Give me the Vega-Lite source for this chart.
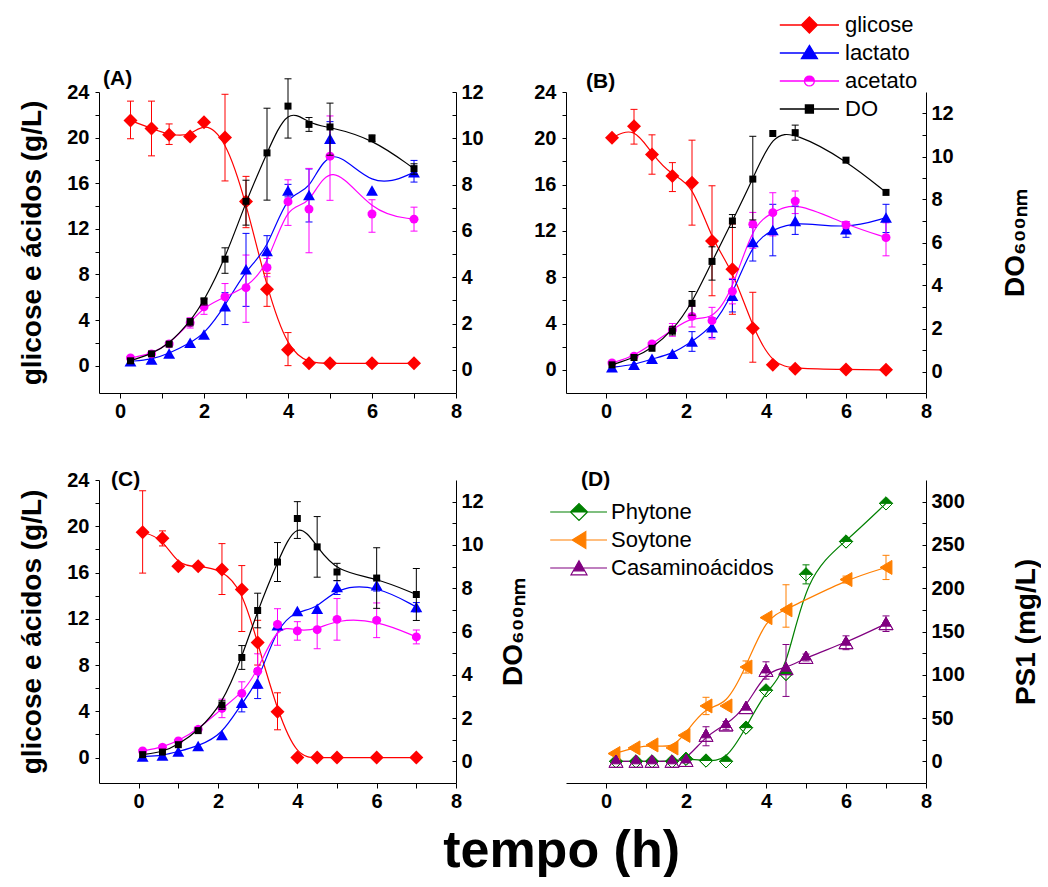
{
  "$schema": "https://vega.github.io/schema/vega-lite/v6.json",
  "background": "white",
  "autosize": {"type": "pad"},
  "padding": {"left": 18, "top": 14, "right": 0, "bottom": 0},
  "title": {"text": "tempo (h)", "orient": "bottom", "anchor": "middle", "fontSize": 52, "fontWeight": "bold", "color": "black", "offset": 15, "dx": 32},
  "datasets": {
    "A": [
      {"t": 0.25, "s": "glicose", "v": 21.5, "lo": 19.9, "hi": 23.2},
      {"t": 0.75, "s": "glicose", "v": 20.8, "lo": 18.4, "hi": 23.2},
      {"t": 1.17, "s": "glicose", "v": 20.25, "lo": 19.4, "hi": 21.2},
      {"t": 1.67, "s": "glicose", "v": 20.1},
      {"t": 2.0, "s": "glicose", "v": 21.35},
      {"t": 2.5, "s": "glicose", "v": 20.0, "lo": 16.2, "hi": 23.8},
      {"t": 3.0, "s": "glicose", "v": 14.4, "lo": 12.1, "hi": 16.6},
      {"t": 3.5, "s": "glicose", "v": 6.7, "lo": 5.2, "hi": 8.1},
      {"t": 4.0, "s": "glicose", "v": 1.4, "lo": 0.0, "hi": 2.9},
      {"t": 4.5, "s": "glicose", "v": 0.2},
      {"t": 5.0, "s": "glicose", "v": 0.2},
      {"t": 6.0, "s": "glicose", "v": 0.2},
      {"t": 7.0, "s": "glicose", "v": 0.2},
      {"t": 0.25, "s": "lactato", "v": 0.38},
      {"t": 0.75, "s": "lactato", "v": 0.53},
      {"t": 1.17, "s": "lactato", "v": 1.06},
      {"t": 1.67, "s": "lactato", "v": 2.0},
      {"t": 2.0, "s": "lactato", "v": 2.73},
      {"t": 2.5, "s": "lactato", "v": 5.2, "lo": 3.6, "hi": 6.4},
      {"t": 3.0, "s": "lactato", "v": 8.45, "lo": 5.2, "hi": 11.6},
      {"t": 3.5, "s": "lactato", "v": 10.06, "lo": 8.8, "hi": 11.4},
      {"t": 4.0, "s": "lactato", "v": 15.35, "lo": 14.8, "hi": 15.9},
      {"t": 4.5, "s": "lactato", "v": 14.96, "lo": 12.6, "hi": 17.25},
      {"t": 5.0, "s": "lactato", "v": 19.9, "lo": 18.2, "hi": 21.4},
      {"t": 6.0, "s": "lactato", "v": 15.35},
      {"t": 7.0, "s": "lactato", "v": 16.96, "lo": 16.1, "hi": 18.0},
      {"t": 0.25, "s": "acetato", "v": 0.67},
      {"t": 0.75, "s": "acetato", "v": 1.03},
      {"t": 1.17, "s": "acetato", "v": 1.9},
      {"t": 1.67, "s": "acetato", "v": 3.76, "lo": 3.3, "hi": 4.2},
      {"t": 2.0, "s": "acetato", "v": 5.16, "lo": 4.5, "hi": 5.8},
      {"t": 2.5, "s": "acetato", "v": 6.04, "lo": 4.9, "hi": 7.2},
      {"t": 3.0, "s": "acetato", "v": 6.84, "lo": 3.8, "hi": 9.7},
      {"t": 3.5, "s": "acetato", "v": 8.6, "lo": 7.8, "hi": 9.4},
      {"t": 4.0, "s": "acetato", "v": 14.38, "lo": 12.3, "hi": 16.3},
      {"t": 4.5, "s": "acetato", "v": 13.73, "lo": 9.9, "hi": 17.3},
      {"t": 5.0, "s": "acetato", "v": 18.37, "lo": 14.5, "hi": 21.9},
      {"t": 6.0, "s": "acetato", "v": 13.3, "lo": 11.7, "hi": 14.55},
      {"t": 7.0, "s": "acetato", "v": 12.85, "lo": 11.8, "hi": 13.9},
      {"t": 0.25, "s": "DO", "v": 0.39},
      {"t": 0.75, "s": "DO", "v": 0.69},
      {"t": 1.17, "s": "DO", "v": 1.11},
      {"t": 1.67, "s": "DO", "v": 2.08, "lo": 1.9, "hi": 2.2},
      {"t": 2.0, "s": "DO", "v": 2.97, "lo": 2.8, "hi": 3.1},
      {"t": 2.5, "s": "DO", "v": 4.78, "lo": 4.17, "hi": 5.27},
      {"t": 3.0, "s": "DO", "v": 7.28, "lo": 6.25, "hi": 8.19},
      {"t": 3.5, "s": "DO", "v": 9.37, "lo": 7.33, "hi": 11.3},
      {"t": 4.0, "s": "DO", "v": 11.39, "lo": 10.01, "hi": 12.57},
      {"t": 4.5, "s": "DO", "v": 10.6, "lo": 10.3, "hi": 10.9},
      {"t": 5.0, "s": "DO", "v": 10.49, "lo": 9.27, "hi": 11.52},
      {"t": 6.0, "s": "DO", "v": 9.99, "lo": 9.85, "hi": 10.15},
      {"t": 7.0, "s": "DO", "v": 8.69, "lo": 8.45, "hi": 8.9}
    ],
    "B": [
      {"t": 0.15, "s": "glicose", "v": 20.04},
      {"t": 0.7, "s": "glicose", "v": 21.04, "lo": 19.5, "hi": 22.5},
      {"t": 1.15, "s": "glicose", "v": 18.6, "lo": 16.9, "hi": 20.3},
      {"t": 1.66, "s": "glicose", "v": 16.74, "lo": 15.4, "hi": 17.9},
      {"t": 2.15, "s": "glicose", "v": 16.16, "lo": 12.5, "hi": 19.84},
      {"t": 2.65, "s": "glicose", "v": 11.14, "lo": 6.4, "hi": 15.9},
      {"t": 3.16, "s": "glicose", "v": 8.7, "lo": 4.8, "hi": 12.6},
      {"t": 3.67, "s": "glicose", "v": 3.59, "lo": 0.66, "hi": 6.7},
      {"t": 4.17, "s": "glicose", "v": 0.43},
      {"t": 4.73, "s": "glicose", "v": 0.1},
      {"t": 6.0, "s": "glicose", "v": 0.03},
      {"t": 7.0, "s": "glicose", "v": 0.0},
      {"t": 0.15, "s": "lactato", "v": 0.23},
      {"t": 0.7, "s": "lactato", "v": 0.43},
      {"t": 1.15, "s": "lactato", "v": 0.95},
      {"t": 1.66, "s": "lactato", "v": 1.38},
      {"t": 2.15, "s": "lactato", "v": 2.44, "lo": 1.6, "hi": 3.3},
      {"t": 2.65, "s": "lactato", "v": 3.67, "lo": 2.8, "hi": 4.5},
      {"t": 3.16, "s": "lactato", "v": 6.4, "lo": 5.0, "hi": 7.8},
      {"t": 3.67, "s": "lactato", "v": 11.05, "lo": 9.4, "hi": 12.3},
      {"t": 4.17, "s": "lactato", "v": 12.09, "lo": 9.85, "hi": 14.3},
      {"t": 4.73, "s": "lactato", "v": 12.86, "lo": 11.7, "hi": 14.15},
      {"t": 6.0, "s": "lactato", "v": 12.14, "lo": 11.45, "hi": 12.8},
      {"t": 7.0, "s": "lactato", "v": 13.15, "lo": 11.86, "hi": 14.3},
      {"t": 0.15, "s": "acetato", "v": 0.6},
      {"t": 0.7, "s": "acetato", "v": 1.18},
      {"t": 1.15, "s": "acetato", "v": 2.24},
      {"t": 1.66, "s": "acetato", "v": 3.47, "lo": 2.9, "hi": 4.0},
      {"t": 2.15, "s": "acetato", "v": 4.62, "lo": 3.7, "hi": 5.5},
      {"t": 2.65, "s": "acetato", "v": 4.25, "lo": 2.67, "hi": 5.4},
      {"t": 3.16, "s": "acetato", "v": 6.78, "lo": 5.7, "hi": 7.9},
      {"t": 3.67, "s": "acetato", "v": 12.58, "lo": 10.5, "hi": 13.6},
      {"t": 4.17, "s": "acetato", "v": 13.58, "lo": 11.57, "hi": 15.3},
      {"t": 4.73, "s": "acetato", "v": 14.58, "lo": 13.5, "hi": 15.45},
      {"t": 6.0, "s": "acetato", "v": 12.52, "lo": 12.2, "hi": 12.8},
      {"t": 7.0, "s": "acetato", "v": 11.43, "lo": 9.85, "hi": 12.7},
      {"t": 0.15, "s": "DO", "v": 0.31},
      {"t": 0.7, "s": "DO", "v": 0.65},
      {"t": 1.15, "s": "DO", "v": 1.08},
      {"t": 1.66, "s": "DO", "v": 1.89, "lo": 1.7, "hi": 2.1},
      {"t": 2.15, "s": "DO", "v": 3.17, "lo": 2.62, "hi": 3.72},
      {"t": 2.65, "s": "DO", "v": 5.12, "lo": 4.25, "hi": 5.8},
      {"t": 3.16, "s": "DO", "v": 7.0, "lo": 6.7, "hi": 7.3},
      {"t": 3.67, "s": "DO", "v": 8.95, "lo": 7.05, "hi": 10.94},
      {"t": 4.17, "s": "DO", "v": 11.07},
      {"t": 4.73, "s": "DO", "v": 11.11, "lo": 10.76, "hi": 11.46},
      {"t": 6.0, "s": "DO", "v": 9.83},
      {"t": 7.0, "s": "DO", "v": 8.33}
    ],
    "C": [
      {"t": 0.1, "s": "glicose", "v": 19.48, "lo": 15.95, "hi": 23.07},
      {"t": 0.6, "s": "glicose", "v": 18.97, "lo": 18.3, "hi": 19.6},
      {"t": 1.0, "s": "glicose", "v": 16.55},
      {"t": 1.5, "s": "glicose", "v": 16.55},
      {"t": 2.1, "s": "glicose", "v": 16.26, "lo": 14.1, "hi": 18.5},
      {"t": 2.6, "s": "glicose", "v": 14.54, "lo": 10.9, "hi": 16.6},
      {"t": 3.0, "s": "glicose", "v": 9.94, "lo": 8.0, "hi": 11.87},
      {"t": 3.5, "s": "glicose", "v": 3.97, "lo": 2.4, "hi": 5.6},
      {"t": 4.0, "s": "glicose", "v": 0.0},
      {"t": 4.5, "s": "glicose", "v": 0.0},
      {"t": 5.0, "s": "glicose", "v": 0.0},
      {"t": 6.0, "s": "glicose", "v": 0.0},
      {"t": 7.0, "s": "glicose", "v": 0.0},
      {"t": 0.1, "s": "lactato", "v": 0.09},
      {"t": 0.6, "s": "lactato", "v": 0.17},
      {"t": 1.0, "s": "lactato", "v": 0.52},
      {"t": 1.5, "s": "lactato", "v": 1.0},
      {"t": 2.1, "s": "lactato", "v": 1.95},
      {"t": 2.6, "s": "lactato", "v": 4.74, "lo": 3.95, "hi": 5.55},
      {"t": 3.0, "s": "lactato", "v": 6.41, "lo": 5.1, "hi": 7.7},
      {"t": 3.5, "s": "lactato", "v": 11.44},
      {"t": 4.0, "s": "lactato", "v": 12.67},
      {"t": 4.5, "s": "lactato", "v": 12.87},
      {"t": 5.0, "s": "lactato", "v": 14.74, "lo": 14.1, "hi": 15.3},
      {"t": 6.0, "s": "lactato", "v": 14.89, "lo": 14.4, "hi": 15.4},
      {"t": 7.0, "s": "lactato", "v": 13.02, "lo": 12.6, "hi": 13.4},
      {"t": 0.1, "s": "acetato", "v": 0.57},
      {"t": 0.6, "s": "acetato", "v": 0.89},
      {"t": 1.0, "s": "acetato", "v": 1.44},
      {"t": 1.5, "s": "acetato", "v": 2.44},
      {"t": 2.1, "s": "acetato", "v": 4.25, "lo": 3.45, "hi": 5.05},
      {"t": 2.6, "s": "acetato", "v": 5.55, "lo": 4.55, "hi": 6.55},
      {"t": 3.0, "s": "acetato", "v": 7.47, "lo": 5.97, "hi": 8.97},
      {"t": 3.5, "s": "acetato", "v": 11.52, "lo": 9.71, "hi": 12.87},
      {"t": 4.0, "s": "acetato", "v": 10.95, "lo": 10.15, "hi": 11.75},
      {"t": 4.5, "s": "acetato", "v": 11.06, "lo": 9.41, "hi": 12.71},
      {"t": 5.0, "s": "acetato", "v": 11.95, "lo": 10.15, "hi": 13.75},
      {"t": 6.0, "s": "acetato", "v": 11.87, "lo": 10.37, "hi": 13.37},
      {"t": 7.0, "s": "acetato", "v": 10.43, "lo": 9.83, "hi": 11.03},
      {"t": 0.1, "s": "DO", "v": 0.31},
      {"t": 0.6, "s": "DO", "v": 0.43},
      {"t": 1.0, "s": "DO", "v": 0.77},
      {"t": 1.5, "s": "DO", "v": 1.42},
      {"t": 2.1, "s": "DO", "v": 2.6, "lo": 2.4, "hi": 2.8},
      {"t": 2.6, "s": "DO", "v": 4.8, "lo": 4.25, "hi": 5.35},
      {"t": 3.0, "s": "DO", "v": 6.97, "lo": 6.17, "hi": 7.77},
      {"t": 3.5, "s": "DO", "v": 9.21, "lo": 8.31, "hi": 10.11},
      {"t": 4.0, "s": "DO", "v": 11.22, "lo": 10.3, "hi": 12.0},
      {"t": 4.5, "s": "DO", "v": 9.91, "lo": 8.51, "hi": 11.31},
      {"t": 5.0, "s": "DO", "v": 8.75, "lo": 8.35, "hi": 9.15},
      {"t": 6.0, "s": "DO", "v": 8.47, "lo": 7.07, "hi": 9.87},
      {"t": 7.0, "s": "DO", "v": 7.71, "lo": 6.51, "hi": 8.91}
    ],
    "D": [
      {"t": 0.25, "s": "Phytone", "v": 0},
      {"t": 0.75, "s": "Phytone", "v": 0},
      {"t": 1.15, "s": "Phytone", "v": 0},
      {"t": 1.65, "s": "Phytone", "v": 0},
      {"t": 2.0, "s": "Phytone", "v": 3},
      {"t": 2.5, "s": "Phytone", "v": 1},
      {"t": 3.0, "s": "Phytone", "v": 0},
      {"t": 3.5, "s": "Phytone", "v": 39},
      {"t": 4.0, "s": "Phytone", "v": 82},
      {"t": 4.5, "s": "Phytone", "v": 101},
      {"t": 5.0, "s": "Phytone", "v": 216, "lo": 205, "hi": 227},
      {"t": 6.0, "s": "Phytone", "v": 254},
      {"t": 7.0, "s": "Phytone", "v": 298},
      {"t": 0.2, "s": "Soytone", "v": 9},
      {"t": 0.7, "s": "Soytone", "v": 15.5},
      {"t": 1.15, "s": "Soytone", "v": 19},
      {"t": 1.65, "s": "Soytone", "v": 15.5},
      {"t": 1.95, "s": "Soytone", "v": 30},
      {"t": 2.5, "s": "Soytone", "v": 64, "lo": 54, "hi": 74},
      {"t": 3.0, "s": "Soytone", "v": 64},
      {"t": 3.5, "s": "Soytone", "v": 109, "lo": 102, "hi": 116},
      {"t": 4.0, "s": "Soytone", "v": 166},
      {"t": 4.5, "s": "Soytone", "v": 175, "lo": 155, "hi": 204},
      {"t": 6.0, "s": "Soytone", "v": 210, "lo": 206, "hi": 214},
      {"t": 7.0, "s": "Soytone", "v": 224, "lo": 210, "hi": 238},
      {"t": 0.25, "s": "Casaminoácidos", "v": 0},
      {"t": 0.75, "s": "Casaminoácidos", "v": 0},
      {"t": 1.15, "s": "Casaminoácidos", "v": 0},
      {"t": 1.65, "s": "Casaminoácidos", "v": 0},
      {"t": 2.0, "s": "Casaminoácidos", "v": 1},
      {"t": 2.5, "s": "Casaminoácidos", "v": 30, "lo": 18, "hi": 40},
      {"t": 3.0, "s": "Casaminoácidos", "v": 42, "lo": 37, "hi": 46},
      {"t": 3.5, "s": "Casaminoácidos", "v": 62},
      {"t": 4.0, "s": "Casaminoácidos", "v": 105, "lo": 95, "hi": 115},
      {"t": 4.5, "s": "Casaminoácidos", "v": 107, "lo": 75, "hi": 135},
      {"t": 5.0, "s": "Casaminoácidos", "v": 120, "lo": 116, "hi": 124},
      {"t": 6.0, "s": "Casaminoácidos", "v": 137, "lo": 129, "hi": 145},
      {"t": 7.0, "s": "Casaminoácidos", "v": 159, "lo": 150, "hi": 168}
    ]
  },
  "columns": 2,
  "bounds": "flush",
  "spacing": {"row": 87, "column": 110},
  "resolve": {
    "scale": {"color": "independent", "shape": "independent", "stroke": "independent"},
    "legend": {"color": "independent", "shape": "independent", "stroke": "independent"}
  },
  "concat": [
    {
      "title": {"text": "(A)", "anchor": "start", "frame": "group", "dx": 4, "offset": -75, "fontSize": 21, "fontWeight": "bold", "color": "black"},
      "width": 357, "height": 301,
      "data": {"name": "A"},
      "encoding": {
        "x": {"field": "t", "type": "quantitative", "scale": {"domain": [-0.5, 8], "nice": false, "zero": false},
              "axis": {"values": [0,1,2,3,4,5,6,7,8], "labelExpr": "datum.value % 2 === 0 ? datum.label : ''", "title": null, "tickSize": 5, "labelPadding": 3}}
      },
      "layer": [
        {
          "transform": [{"filter": "datum.s !== 'DO'"}],
          "encoding": {
            "y": {"field": "v", "type": "quantitative", "scale": {"domain": [-2.4, 24], "nice": false, "zero": false},
                  "axis": {"orient": "left", "values": [0,2,4,6,8,10,12,14,16,18,20,22,24], "labelExpr": "datum.value % 4 === 0 ? datum.label : ''",
                           "title": "glicose e ácidos (g/L)", "titleFontSize": 28, "titlePadding": 20, "tickSize": 4, "labelPadding": 6}}
          },
          "layer": [
            {"mark": {"type": "line", "interpolate": "basis", "strokeWidth": 1.2},
             "encoding": {"color": {"field": "s", "type": "nominal", "scale": {"domain": ["glicose","lactato","acetato","DO"], "range": ["#ff0000","#0000ff","#ff00ff","#000000"]}}}},
            {"transform": [{"filter": "isValid(datum.lo)"}],
             "mark": {"type": "errorbar", "ticks": {"size": 7, "opacity": 1}, "rule": {"opacity": 1}, "thickness": 1},
             "encoding": {
               "y": {"field": "lo", "type": "quantitative", "scale": {"domain": [-2.4, 24], "nice": false, "zero": false},
                     "axis": {"orient": "left", "values": [0,2,4,6,8,10,12,14,16,18,20,22,24], "labelExpr": "datum.value % 4 === 0 ? datum.label : ''",
                              "title": "glicose e ácidos (g/L)", "titleFontSize": 28, "titlePadding": 20, "tickSize": 4, "labelPadding": 6}},
               "y2": {"field": "hi"},
               "color": {"field": "s", "type": "nominal", "scale": {"domain": ["glicose","lactato","acetato","DO"], "range": ["#ff0000","#0000ff","#ff00ff","#000000"]}}}},
            {"transform": [{"filter": "datum.s === 'glicose'"}],
             "mark": {"type": "point", "filled": true, "size": 196, "opacity": 1, "shape": "M-1,0L0,-1L1,0L0,1Z"},
             "encoding": {"color": {"field": "s", "type": "nominal", "scale": {"domain": ["glicose","lactato","acetato","DO"], "range": ["#ff0000","#0000ff","#ff00ff","#000000"]}}}},
            {"transform": [{"filter": "datum.s === 'lactato'"}],
             "mark": {"type": "point", "filled": true, "size": 196, "opacity": 1, "shape": "M0,-0.75L0.85,0.75L-0.85,0.75Z"},
             "encoding": {"color": {"field": "s", "type": "nominal", "scale": {"domain": ["glicose","lactato","acetato","DO"], "range": ["#ff0000","#0000ff","#ff00ff","#000000"]}}}},
            {"transform": [{"filter": "datum.s === 'acetato'"}],
             "mark": {"type": "point", "filled": true, "size": 196, "opacity": 1, "shape": "M0.64,0L0.591,0.245L0.453,0.453L0.245,0.591L0,0.64L-0.245,0.591L-0.453,0.453L-0.591,0.245L-0.64,0L-0.591,-0.245L-0.453,-0.453L-0.245,-0.591L0,-0.64L0.245,-0.591L0.453,-0.453L0.591,-0.245Z"},
             "encoding": {"color": {"field": "s", "type": "nominal", "scale": {"domain": ["glicose","lactato","acetato","DO"], "range": ["#ff0000","#0000ff","#ff00ff","#000000"]}}}},
            {"transform": [{"filter": "false"}],
             "mark": {"type": "point", "filled": true, "opacity": 1},
             "encoding": {
               "color": {"field": "s", "type": "nominal", "scale": {"domain": ["glicose","lactato","acetato","DO"], "range": ["#ff0000","#0000ff","#ff00ff","#000000"]},
                         "legend": {"orient": "none", "legendX": 729, "legendY": -78, "title": null, "symbolSize": 256, "symbolOpacity": 1, "symbolStrokeWidth": 1.3,
                                    "labelFontSize": 22, "labelOffset": -5, "rowPadding": 6, "labelLimit": 400, "padding": 0}},
               "stroke": {"field": "s", "type": "nominal", "scale": {"domain": ["glicose","lactato","acetato","DO"], "range": ["#ff0000","#0000ff","#ff00ff","#000000"]}},
               "shape": {"field": "s", "type": "nominal", "scale": {"domain": ["glicose","lactato","acetato","DO"],
                         "range": ["M-7.4,0H0M-4.7,0L-3.7,-1L-2.7,0L-3.7,1Z",
                                   "M-7.4,0H0M-3.7,-0.95L-2.7,0.7L-4.7,0.7Z",
                                   "M-7.4,0H0M-4.32,0L-4.27,-0.24L-4.14,-0.44L-3.94,-0.57L-3.7,-0.62L-3.46,-0.57L-3.26,-0.44L-3.13,-0.24L-3.08,0ZM-4.32,0L-4.27,0.24L-4.14,0.44L-3.94,0.57L-3.7,0.62L-3.46,0.57L-3.26,0.44L-3.13,0.24L-3.08,0L-3.13,0.24L-3.26,0.44L-3.46,0.57L-3.7,0.62L-3.94,0.57L-4.14,0.44L-4.27,0.24L-4.32,0",
                                   "M-7.4,0H0M-4.2,-0.5H-3.2V0.5H-4.2Z"]}}}}
          ]
        },
        {
          "transform": [{"filter": "datum.s === 'DO'"}],
          "encoding": {
            "y": {"field": "v", "type": "quantitative", "scale": {"domain": [-1, 12], "nice": false, "zero": false},
                  "axis": {"orient": "right", "values": [0,1,2,3,4,5,6,7,8,9,10,11,12], "labelExpr": "datum.value % 2 === 0 ? datum.label : ''", "title": null, "tickSize": -4, "labelPadding": 9}}
          },
          "layer": [
            {"mark": {"type": "line", "interpolate": "basis", "strokeWidth": 1.2},
             "encoding": {"color": {"field": "s", "type": "nominal", "scale": {"domain": ["glicose","lactato","acetato","DO"], "range": ["#ff0000","#0000ff","#ff00ff","#000000"]}}}},
            {"transform": [{"filter": "isValid(datum.lo)"}],
             "mark": {"type": "errorbar", "ticks": {"size": 7, "opacity": 1}, "rule": {"opacity": 1}, "thickness": 1},
             "encoding": {
               "y": {"field": "lo", "type": "quantitative", "scale": {"domain": [-1, 12], "nice": false, "zero": false},
                     "axis": {"orient": "right", "values": [0,1,2,3,4,5,6,7,8,9,10,11,12], "labelExpr": "datum.value % 2 === 0 ? datum.label : ''", "title": null, "tickSize": -4, "labelPadding": 9}},
               "y2": {"field": "hi"},
               "color": {"field": "s", "type": "nominal", "scale": {"domain": ["glicose","lactato","acetato","DO"], "range": ["#ff0000","#0000ff","#ff00ff","#000000"]}}}},
            {"mark": {"type": "point", "filled": true, "size": 196, "opacity": 1, "shape": "M-0.5,-0.5H0.5V0.5H-0.5Z"},
             "encoding": {"color": {"field": "s", "type": "nominal", "scale": {"domain": ["glicose","lactato","acetato","DO"], "range": ["#ff0000","#0000ff","#ff00ff","#000000"]}}}}
          ]
        }
      ],
      "resolve": {"scale": {"y": "independent"}}
    },
    {
      "title": {"text": "(B)", "anchor": "start", "frame": "group", "dx": 20, "offset": -10, "fontSize": 21, "fontWeight": "bold", "color": "black"},
      "width": 360, "height": 301,
      "data": {"name": "B"},
      "encoding": {
        "x": {"field": "t", "type": "quantitative", "scale": {"domain": [-1, 8], "nice": false, "zero": false},
              "axis": {"values": [0,1,2,3,4,5,6,7,8], "labelExpr": "datum.value % 2 === 0 ? datum.label : ''", "title": null, "tickSize": 5, "labelPadding": 3}}
      },
      "layer": [
        {
          "transform": [{"filter": "datum.s !== 'DO'"}],
          "encoding": {
            "y": {"field": "v", "type": "quantitative", "scale": {"domain": [-2, 24], "nice": false, "zero": false},
                  "axis": {"orient": "left", "values": [0,2,4,6,8,10,12,14,16,18,20,22,24], "labelExpr": "datum.value % 4 === 0 ? datum.label : ''", "title": null, "tickSize": 4, "labelPadding": 6}}
          },
          "layer": [
            {"mark": {"type": "line", "interpolate": "basis", "strokeWidth": 1.2},
             "encoding": {"color": {"field": "s", "type": "nominal", "scale": {"domain": ["glicose","lactato","acetato","DO"], "range": ["#ff0000","#0000ff","#ff00ff","#000000"]}, "legend": null}}},
            {"transform": [{"filter": "isValid(datum.lo)"}],
             "mark": {"type": "errorbar", "ticks": {"size": 7, "opacity": 1}, "rule": {"opacity": 1}, "thickness": 1},
             "encoding": {
               "y": {"field": "lo", "type": "quantitative", "scale": {"domain": [-2, 24], "nice": false, "zero": false},
                     "axis": {"orient": "left", "values": [0,2,4,6,8,10,12,14,16,18,20,22,24], "labelExpr": "datum.value % 4 === 0 ? datum.label : ''", "title": null, "tickSize": 4, "labelPadding": 6}},
               "y2": {"field": "hi"},
               "color": {"field": "s", "type": "nominal", "scale": {"domain": ["glicose","lactato","acetato","DO"], "range": ["#ff0000","#0000ff","#ff00ff","#000000"]}, "legend": null}}},
            {"transform": [{"filter": "datum.s === 'glicose'"}],
             "mark": {"type": "point", "filled": true, "size": 196, "opacity": 1, "shape": "M-1,0L0,-1L1,0L0,1Z"},
             "encoding": {"color": {"field": "s", "type": "nominal", "scale": {"domain": ["glicose","lactato","acetato","DO"], "range": ["#ff0000","#0000ff","#ff00ff","#000000"]}, "legend": null}}},
            {"transform": [{"filter": "datum.s === 'lactato'"}],
             "mark": {"type": "point", "filled": true, "size": 196, "opacity": 1, "shape": "M0,-0.75L0.85,0.75L-0.85,0.75Z"},
             "encoding": {"color": {"field": "s", "type": "nominal", "scale": {"domain": ["glicose","lactato","acetato","DO"], "range": ["#ff0000","#0000ff","#ff00ff","#000000"]}, "legend": null}}},
            {"transform": [{"filter": "datum.s === 'acetato'"}],
             "mark": {"type": "point", "filled": true, "size": 196, "opacity": 1, "shape": "M0.64,0L0.591,0.245L0.453,0.453L0.245,0.591L0,0.64L-0.245,0.591L-0.453,0.453L-0.591,0.245L-0.64,0L-0.591,-0.245L-0.453,-0.453L-0.245,-0.591L0,-0.64L0.245,-0.591L0.453,-0.453L0.591,-0.245Z"},
             "encoding": {"color": {"field": "s", "type": "nominal", "scale": {"domain": ["glicose","lactato","acetato","DO"], "range": ["#ff0000","#0000ff","#ff00ff","#000000"]}, "legend": null}}}
          ]
        },
        {
          "transform": [{"filter": "datum.s === 'DO'"}],
          "encoding": {
            "y": {"field": "v", "type": "quantitative", "scale": {"domain": [-1, 13], "nice": false, "zero": false},
                  "axis": {"orient": "right", "values": [0,1,2,3,4,5,6,7,8,9,10,11,12], "labelExpr": "datum.value % 2 === 0 ? datum.label : ''",
                           "title": "DO₆₀₀ₙₘ", "titleFontSize": 28, "titleAngle": 270, "titleBaseline": "top", "titlePadding": 48, "tickSize": -4, "labelPadding": 9}}
          },
          "layer": [
            {"mark": {"type": "line", "interpolate": "basis", "strokeWidth": 1.2},
             "encoding": {"color": {"field": "s", "type": "nominal", "scale": {"domain": ["glicose","lactato","acetato","DO"], "range": ["#ff0000","#0000ff","#ff00ff","#000000"]}, "legend": null}}},
            {"transform": [{"filter": "isValid(datum.lo)"}],
             "mark": {"type": "errorbar", "ticks": {"size": 7, "opacity": 1}, "rule": {"opacity": 1}, "thickness": 1},
             "encoding": {
               "y": {"field": "lo", "type": "quantitative", "scale": {"domain": [-1, 13], "nice": false, "zero": false},
                     "axis": {"orient": "right", "values": [0,1,2,3,4,5,6,7,8,9,10,11,12], "labelExpr": "datum.value % 2 === 0 ? datum.label : ''",
                              "title": "DO₆₀₀ₙₘ", "titleFontSize": 28, "titleAngle": 270, "titleBaseline": "top", "titlePadding": 48, "tickSize": -4, "labelPadding": 9}},
               "y2": {"field": "hi"},
               "color": {"field": "s", "type": "nominal", "scale": {"domain": ["glicose","lactato","acetato","DO"], "range": ["#ff0000","#0000ff","#ff00ff","#000000"]}, "legend": null}}},
            {"mark": {"type": "point", "filled": true, "size": 196, "opacity": 1, "shape": "M-0.5,-0.5H0.5V0.5H-0.5Z"},
             "encoding": {"color": {"field": "s", "type": "nominal", "scale": {"domain": ["glicose","lactato","acetato","DO"], "range": ["#ff0000","#0000ff","#ff00ff","#000000"]}, "legend": null}}}
          ]
        }
      ],
      "resolve": {"scale": {"y": "independent"}}
    },
    {
      "title": {"text": "(C)", "anchor": "start", "frame": "group", "dx": 12, "offset": -20, "fontSize": 21, "fontWeight": "bold", "color": "black"},
      "width": 357, "height": 303,
      "data": {"name": "C"},
      "encoding": {
        "x": {"field": "t", "type": "quantitative", "scale": {"domain": [-1, 8], "nice": false, "zero": false},
              "axis": {"values": [0,1,2,3,4,5,6,7,8], "labelExpr": "datum.value % 2 === 0 ? datum.label : ''", "title": null, "tickSize": 5, "labelPadding": 3}}
      },
      "layer": [
        {
          "transform": [{"filter": "datum.s !== 'DO'"}],
          "encoding": {
            "y": {"field": "v", "type": "quantitative", "scale": {"domain": [-2.2, 24], "nice": false, "zero": false},
                  "axis": {"orient": "left", "values": [0,2,4,6,8,10,12,14,16,18,20,22,24], "labelExpr": "datum.value % 4 === 0 ? datum.label : ''",
                           "title": "glicose e ácidos (g/L)", "titleFontSize": 28, "titlePadding": 20, "tickSize": 4, "labelPadding": 6}}
          },
          "layer": [
            {"mark": {"type": "line", "interpolate": "basis", "strokeWidth": 1.2},
             "encoding": {"color": {"field": "s", "type": "nominal", "scale": {"domain": ["glicose","lactato","acetato","DO"], "range": ["#ff0000","#0000ff","#ff00ff","#000000"]}, "legend": null}}},
            {"transform": [{"filter": "isValid(datum.lo)"}],
             "mark": {"type": "errorbar", "ticks": {"size": 7, "opacity": 1}, "rule": {"opacity": 1}, "thickness": 1},
             "encoding": {
               "y": {"field": "lo", "type": "quantitative", "scale": {"domain": [-2.2, 24], "nice": false, "zero": false},
                     "axis": {"orient": "left", "values": [0,2,4,6,8,10,12,14,16,18,20,22,24], "labelExpr": "datum.value % 4 === 0 ? datum.label : ''",
                              "title": "glicose e ácidos (g/L)", "titleFontSize": 28, "titlePadding": 20, "tickSize": 4, "labelPadding": 6}},
               "y2": {"field": "hi"},
               "color": {"field": "s", "type": "nominal", "scale": {"domain": ["glicose","lactato","acetato","DO"], "range": ["#ff0000","#0000ff","#ff00ff","#000000"]}, "legend": null}}},
            {"transform": [{"filter": "datum.s === 'glicose'"}],
             "mark": {"type": "point", "filled": true, "size": 196, "opacity": 1, "shape": "M-1,0L0,-1L1,0L0,1Z"},
             "encoding": {"color": {"field": "s", "type": "nominal", "scale": {"domain": ["glicose","lactato","acetato","DO"], "range": ["#ff0000","#0000ff","#ff00ff","#000000"]}, "legend": null}}},
            {"transform": [{"filter": "datum.s === 'lactato'"}],
             "mark": {"type": "point", "filled": true, "size": 196, "opacity": 1, "shape": "M0,-0.75L0.85,0.75L-0.85,0.75Z"},
             "encoding": {"color": {"field": "s", "type": "nominal", "scale": {"domain": ["glicose","lactato","acetato","DO"], "range": ["#ff0000","#0000ff","#ff00ff","#000000"]}, "legend": null}}},
            {"transform": [{"filter": "datum.s === 'acetato'"}],
             "mark": {"type": "point", "filled": true, "size": 196, "opacity": 1, "shape": "M0.64,0L0.591,0.245L0.453,0.453L0.245,0.591L0,0.64L-0.245,0.591L-0.453,0.453L-0.591,0.245L-0.64,0L-0.591,-0.245L-0.453,-0.453L-0.245,-0.591L0,-0.64L0.245,-0.591L0.453,-0.453L0.591,-0.245Z"},
             "encoding": {"color": {"field": "s", "type": "nominal", "scale": {"domain": ["glicose","lactato","acetato","DO"], "range": ["#ff0000","#0000ff","#ff00ff","#000000"]}, "legend": null}}}
          ]
        },
        {
          "transform": [{"filter": "datum.s === 'DO'"}],
          "encoding": {
            "y": {"field": "v", "type": "quantitative", "scale": {"domain": [-1, 13], "nice": false, "zero": false},
                  "axis": {"orient": "right", "values": [0,1,2,3,4,5,6,7,8,9,10,11,12], "labelExpr": "datum.value % 2 === 0 ? datum.label : ''",
                           "title": "DO₆₀₀ₙₘ", "titleFontSize": 28, "titleAngle": 270, "titleBaseline": "top", "titlePadding": 16, "tickSize": -4, "labelPadding": 9}}
          },
          "layer": [
            {"mark": {"type": "line", "interpolate": "basis", "strokeWidth": 1.2},
             "encoding": {"color": {"field": "s", "type": "nominal", "scale": {"domain": ["glicose","lactato","acetato","DO"], "range": ["#ff0000","#0000ff","#ff00ff","#000000"]}, "legend": null}}},
            {"transform": [{"filter": "isValid(datum.lo)"}],
             "mark": {"type": "errorbar", "ticks": {"size": 7, "opacity": 1}, "rule": {"opacity": 1}, "thickness": 1},
             "encoding": {
               "y": {"field": "lo", "type": "quantitative", "scale": {"domain": [-1, 13], "nice": false, "zero": false},
                     "axis": {"orient": "right", "values": [0,1,2,3,4,5,6,7,8,9,10,11,12], "labelExpr": "datum.value % 2 === 0 ? datum.label : ''",
                              "title": "DO₆₀₀ₙₘ", "titleFontSize": 28, "titleAngle": 270, "titleBaseline": "top", "titlePadding": 16, "tickSize": -4, "labelPadding": 9}},
               "y2": {"field": "hi"},
               "color": {"field": "s", "type": "nominal", "scale": {"domain": ["glicose","lactato","acetato","DO"], "range": ["#ff0000","#0000ff","#ff00ff","#000000"]}, "legend": null}}},
            {"mark": {"type": "point", "filled": true, "size": 196, "opacity": 1, "shape": "M-0.5,-0.5H0.5V0.5H-0.5Z"},
             "encoding": {"color": {"field": "s", "type": "nominal", "scale": {"domain": ["glicose","lactato","acetato","DO"], "range": ["#ff0000","#0000ff","#ff00ff","#000000"]}, "legend": null}}}
          ]
        }
      ],
      "resolve": {"scale": {"y": "independent"}}
    },
    {
      "title": {"text": "(D)", "anchor": "start", "frame": "group", "dx": 15, "offset": -10, "fontSize": 21, "fontWeight": "bold", "color": "black"},
      "width": 360, "height": 303,
      "data": {"name": "D"},
      "encoding": {
        "x": {"field": "t", "type": "quantitative", "scale": {"domain": [-1, 8], "nice": false, "zero": false},
              "axis": {"values": [0,1,2,3,4,5,6,7,8], "labelExpr": "datum.value % 2 === 0 ? datum.label : ''", "title": null, "tickSize": 5, "labelPadding": 3}},
        "y": {"field": "v", "type": "quantitative", "scale": {"domain": [-25, 325], "nice": false, "zero": false},
              "axis": {"orient": "right", "values": [0,25,50,75,100,125,150,175,200,225,250,275,300], "labelExpr": "datum.value % 50 === 0 ? datum.label : ''",
                       "title": "PS1 (mg/L)", "titleFontSize": 28, "titleAngle": 270, "titleBaseline": "top", "titlePadding": 48, "tickSize": -4, "labelPadding": 9}}
      },
      "layer": [
        {"mark": {"type": "line", "interpolate": "basis", "strokeWidth": 1.2},
         "encoding": {"color": {"field": "s", "type": "nominal", "scale": {"domain": ["Phytone","Soytone","Casaminoácidos"], "range": ["#008000","#ff7f00","#800080"]}}}},
        {"transform": [{"filter": "isValid(datum.lo)"}],
         "mark": {"type": "errorbar", "ticks": {"size": 7, "opacity": 1}, "rule": {"opacity": 1}, "thickness": 1},
         "encoding": {
           "y": {"field": "lo", "type": "quantitative", "scale": {"domain": [-25, 325], "nice": false, "zero": false},
                 "axis": {"orient": "right", "values": [0,25,50,75,100,125,150,175,200,225,250,275,300], "labelExpr": "datum.value % 50 === 0 ? datum.label : ''",
                          "title": "PS1 (mg/L)", "titleFontSize": 28, "titleAngle": 270, "titleBaseline": "top", "titlePadding": 48, "tickSize": -4, "labelPadding": 9}},
           "y2": {"field": "hi"},
           "color": {"field": "s", "type": "nominal", "scale": {"domain": ["Phytone","Soytone","Casaminoácidos"], "range": ["#008000","#ff7f00","#800080"]}}}},
        {"transform": [{"filter": "datum.s === 'Phytone'"}],
         "mark": {"type": "point", "filled": true, "size": 196, "opacity": 1, "stroke": "#008000", "strokeWidth": 1, "shape": "M-0.95,0L0,-0.95L0.95,0ZM-0.95,0L0,0.95L0.95,0L0,0.95L-0.95,0"},
         "encoding": {"color": {"field": "s", "type": "nominal", "scale": {"domain": ["Phytone","Soytone","Casaminoácidos"], "range": ["#008000","#ff7f00","#800080"]}}}},
        {"transform": [{"filter": "datum.s === 'Soytone'"}],
         "mark": {"type": "point", "filled": true, "size": 196, "opacity": 1, "stroke": "#ff7f00", "strokeWidth": 1, "shape": "M-0.85,0L0.85,-1L0.85,1Z"},
         "encoding": {"color": {"field": "s", "type": "nominal", "scale": {"domain": ["Phytone","Soytone","Casaminoácidos"], "range": ["#008000","#ff7f00","#800080"]}}}},
        {"transform": [{"filter": "datum.s === 'Casaminoácidos'"}],
         "mark": {"type": "point", "filled": true, "size": 196, "opacity": 1, "stroke": "#800080", "strokeWidth": 1, "shape": "M0,-0.9L0.71,0.35L-0.71,0.35ZM0,-0.9L1,0.85L-1,0.85L0,-0.9L-1,0.85L1,0.85L0,-0.9"},
         "encoding": {"color": {"field": "s", "type": "nominal", "scale": {"domain": ["Phytone","Soytone","Casaminoácidos"], "range": ["#008000","#ff7f00","#800080"]}}}},
        {"transform": [{"filter": "false"}],
         "mark": {"type": "point", "filled": true, "opacity": 1},
         "encoding": {
           "color": {"field": "s", "type": "nominal", "scale": {"domain": ["Phytone","Soytone","Casaminoácidos"], "range": ["#008000","#ff7f00","#800080"]},
                     "legend": {"orient": "none", "legendX": 30, "legendY": 21, "title": null, "symbolSize": 256, "symbolOpacity": 1, "symbolStrokeWidth": 1.2,
                                "labelFontSize": 22, "labelOffset": -7, "rowPadding": 6, "labelLimit": 400, "padding": 0}},
           "stroke": {"field": "s", "type": "nominal", "scale": {"domain": ["Phytone","Soytone","Casaminoácidos"], "range": ["#008000","#ff7f00","#800080"]}},
           "shape": {"field": "s", "type": "nominal", "scale": {"domain": ["Phytone","Soytone","Casaminoácidos"],
                     "range": ["M-7.1,0H0M-4.56,0L-3.5,-1.06L-2.44,0ZM-4.56,0L-3.5,1.06L-2.44,0L-3.5,1.06L-4.56,0",
                               "M-7.1,0H0M-4.35,0L-2.65,-1.06L-2.65,1.06Z",
                               "M-7.1,0H0M-3.5,-0.9L-2.79,0.35L-4.21,0.35ZM-3.5,-0.9L-2.5,0.85L-4.5,0.85L-3.5,-0.9L-4.5,0.85L-2.5,0.85L-3.5,-0.9"]}}}}
      ]
    }
  ],
  "config": {
    "font": "Liberation Sans",
    "view": {"stroke": null},
    "mark": {"opacity": 1},
    "tick": {"opacity": 1},
    "axis": {"labelFont": "Liberation Sans", "labelFontSize": 20, "labelFontWeight": "bold", "labelColor": "black", "domainColor": "black", "tickColor": "black",
             "grid": false, "labelFlush": false, "labelOverlap": false, "titleFont": "Liberation Sans", "titleFontWeight": "bold", "titleColor": "black", "domainWidth": 1, "tickWidth": 1},
    "legend": {"labelFont": "Liberation Sans", "labelColor": "black", "symbolOpacity": 1},
    "title": {"font": "Liberation Sans", "color": "black"}
  }
}
